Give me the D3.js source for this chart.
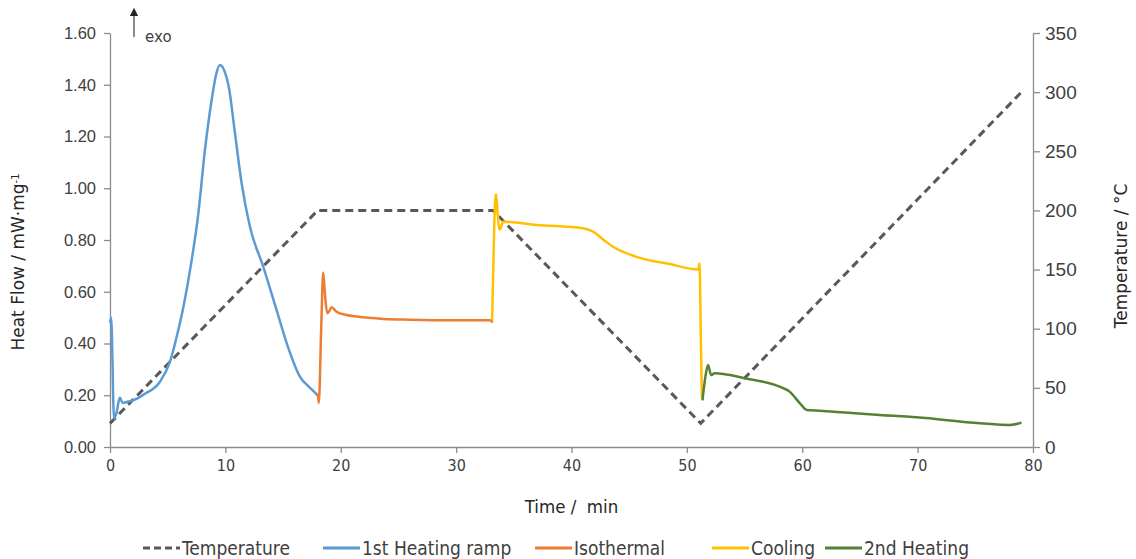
<!DOCTYPE html>
<html>
<head>
<meta charset="utf-8">
<script src="https://cdn.jsdelivr.net/npm/d3@7"></script>
<style>
  body { margin: 0; background: #fff; }
  svg { font-family: "DejaVu Sans", Verdana, sans-serif; }
  .cond { font-family: "DejaVu Sans Condensed", "DejaVu Sans", sans-serif; font-stretch: condensed; }
</style>
</head>
<body>
<div id="contenedor"></div>
<script>
// temperature program (dashed line, right axis)
var tempTime = [0, 18, 33.2, 51.2, 79]
var tempValue = [20, 200, 200, 20, 300]

// heat flow segments (left axis)
var heat1Time = [0, 0.1, 0.35, 0.55, 0.85, 1.1, 1.5, 2, 3, 4.3, 5.2, 5.8, 6.4, 7.0, 7.65, 8.23, 8.81, 9.2, 9.53, 9.9, 10.3, 10.83, 11.41, 12.13, 13.28, 14.44, 15.4, 16.46, 17.3, 18.0]
var heat1Value = [0.48, 0.50, 0.11, 0.13, 0.19, 0.17, 0.175, 0.18, 0.205, 0.25, 0.33, 0.43, 0.55, 0.70, 0.90, 1.148, 1.341, 1.44, 1.476, 1.455, 1.39, 1.213, 1.019, 0.851, 0.697, 0.529, 0.39, 0.272, 0.23, 0.20]

var isoTime = [18.0, 18.1, 18.3, 18.48, 18.65, 18.83, 19.0, 19.2, 19.63, 20.5, 21.4, 23.7, 26, 30, 33.07, 33.12]
var isoValue = [0.207, 0.17, 0.45, 0.674, 0.58, 0.517, 0.525, 0.54, 0.523, 0.51, 0.504, 0.495, 0.492, 0.49, 0.49, 0.48]

var coolTime = [33.12, 33.3, 33.45, 33.6, 33.75, 33.85, 34.07, 36.97, 41.0, 41.87, 42.8, 43.6, 45.63, 48.5, 50.98, 51.1, 51.2, 51.3]
var coolValue = [0.49, 0.85, 0.978, 0.90, 0.84, 0.845, 0.871, 0.858, 0.845, 0.832, 0.80, 0.774, 0.735, 0.707, 0.686, 0.71, 0.45, 0.19]

var heat2Time = [51.35, 51.6, 51.84, 52.1, 52.4, 55.15, 58.05, 58.9, 59.8, 60.4, 61.5, 66.7, 69.9, 75.4, 78, 79]
var heat2Value = [0.18, 0.27, 0.317, 0.278, 0.285, 0.265, 0.233, 0.214, 0.169, 0.143, 0.140, 0.124, 0.115, 0.092, 0.085, 0.094]

var xTicks = [0, 10, 20, 30, 40, 50, 60, 70, 80]
var yLeftTicks = [0, 0.2, 0.4, 0.6, 0.8, 1.0, 1.2, 1.4, 1.6]
var yRightTicks = [0, 50, 100, 150, 200, 250, 300, 350]

var legendNames = ["Temperature", "1st Heating ramp", "Isothermal", "Cooling", "2nd Heating"]
var colores = ["#595959", "#5b9bd5", "#ed7d31", "#ffc000", "#548235"]

var ancho = 1136
var alto = 559
var izq = 110, der = 1033, arriba = 33, abajo = 447

var svg = d3.select("#contenedor").append("svg")
    .attr("width", ancho)
    .attr("height", alto)

var escalaX = d3.scaleLinear().domain([0, 80]).range([izq, der])
var escalaY = d3.scaleLinear().domain([0, 1.6]).range([abajo, arriba])
var escalaT = d3.scaleLinear().domain([0, 350]).range([abajo, arriba])

function estiloEje(g) {
    g.selectAll("path, line").attr("stroke", "#8c8c8c").attr("stroke-width", 1.3)
    g.selectAll("text").attr("fill", "#404040")
}

// axes
var ejeX = svg.append("g").attr("transform", "translate(0," + abajo + ")")
    .call(d3.axisBottom(escalaX).tickValues(xTicks).tickSize(6).tickSizeOuter(0))
ejeX.call(estiloEje)
ejeX.selectAll("text").attr("class", "cond").style("font-size", "16px").attr("dy", "0.95em")

var ejeY = svg.append("g").attr("transform", "translate(" + izq + ",0)")
    .call(d3.axisLeft(escalaY).tickValues(yLeftTicks).tickFormat(d3.format(".2f")).tickSize(6).tickSizeOuter(0))
ejeY.call(estiloEje)
ejeY.selectAll("text").style("font-size", "16.5px").attr("x", -14)

var ejeT = svg.append("g").attr("transform", "translate(" + der + ",0)")
    .call(d3.axisRight(escalaT).tickValues(yRightTicks).tickSize(7).tickSizeOuter(0))
ejeT.call(estiloEje)
ejeT.selectAll("text").style("font-size", "19px").attr("x", 12)

// axis titles
svg.append("text").attr("class", "cond")
    .attr("x", (izq + der) / 2).attr("y", 513)
    .attr("text-anchor", "middle").attr("fill", "#262626")
    .style("font-size", "18.5px").style("white-space", "pre")
    .text("Time /  min")

var tituloY = svg.append("text")
    .attr("transform", "translate(24,262) rotate(-90)")
    .attr("text-anchor", "middle").attr("fill", "#262626")
    .style("font-size", "17px")
tituloY.append("tspan").text("Heat Flow / mW·mg")
tituloY.append("tspan").attr("dy", "-0.5em").style("font-size", "10px").text("-1")

svg.append("text")
    .attr("transform", "translate(1127,256) rotate(-90)")
    .attr("text-anchor", "middle").attr("fill", "#262626")
    .style("font-size", "17px")
    .text("Temperature / °C")

// exo arrow
svg.append("defs").append("marker")
    .attr("id", "flecha").attr("viewBox", "0 0 10 10")
    .attr("refX", 5).attr("refY", 5)
    .attr("markerWidth", 7).attr("markerHeight", 7)
    .attr("orient", "auto-start-reverse")
    .append("path").attr("d", "M0,0 L10,5 L0,10 z").attr("fill", "#262626")
svg.append("line")
    .attr("x1", 134).attr("x2", 134).attr("y1", 37).attr("y2", 12)
    .attr("stroke", "#404040").attr("stroke-width", 1.2)
    .attr("marker-end", "url(#flecha)")
svg.append("text").attr("x", 145).attr("y", 42)
    .attr("fill", "#404040").style("font-size", "15px").text("exo")

// lines
var linea = d3.line()
    .x(function(d) { return escalaX(d[0]) })
    .y(function(d) { return escalaY(d[1]) })
    .curve(d3.curveMonotoneX)

var lineaT = d3.line()
    .x(function(d) { return escalaX(d[0]) })
    .y(function(d) { return escalaT(d[1]) })

var series = [
    [heat1Time, heat1Value, colores[1]],
    [isoTime, isoValue, colores[2]],
    [coolTime, coolValue, colores[3]],
    [heat2Time, heat2Value, colores[4]]
]

svg.append("path")
    .datum(d3.zip(tempTime, tempValue))
    .attr("d", lineaT)
    .attr("fill", "none")
    .attr("stroke", colores[0])
    .attr("stroke-width", 3)
    .attr("stroke-dasharray", "8,5")

series.forEach(function(s) {
    svg.append("path")
        .datum(d3.zip(s[0], s[1]))
        .attr("d", linea)
        .attr("fill", "none")
        .attr("stroke", s[2])
        .attr("stroke-width", 2.5)
        .attr("stroke-linejoin", "round")
})

// legend
var legendX = [143, 323, 535, 712, 825]
var leyenda = svg.append("g")
legendNames.forEach(function(nombre, i) {
    var g = leyenda.append("g").attr("transform", "translate(" + legendX[i] + ",548)")
    g.append("line").attr("x1", 0).attr("x2", 37).attr("y1", 0).attr("y2", 0)
        .attr("stroke", colores[i]).attr("stroke-width", 3)
        .attr("stroke-dasharray", i === 0 ? "7,4" : null)
    g.append("text").attr("class", "cond").attr("x", 39).attr("y", 7)
        .attr("fill", "#404040").style("font-size", "19px").text(nombre)
})
</script>
</body>
</html>
